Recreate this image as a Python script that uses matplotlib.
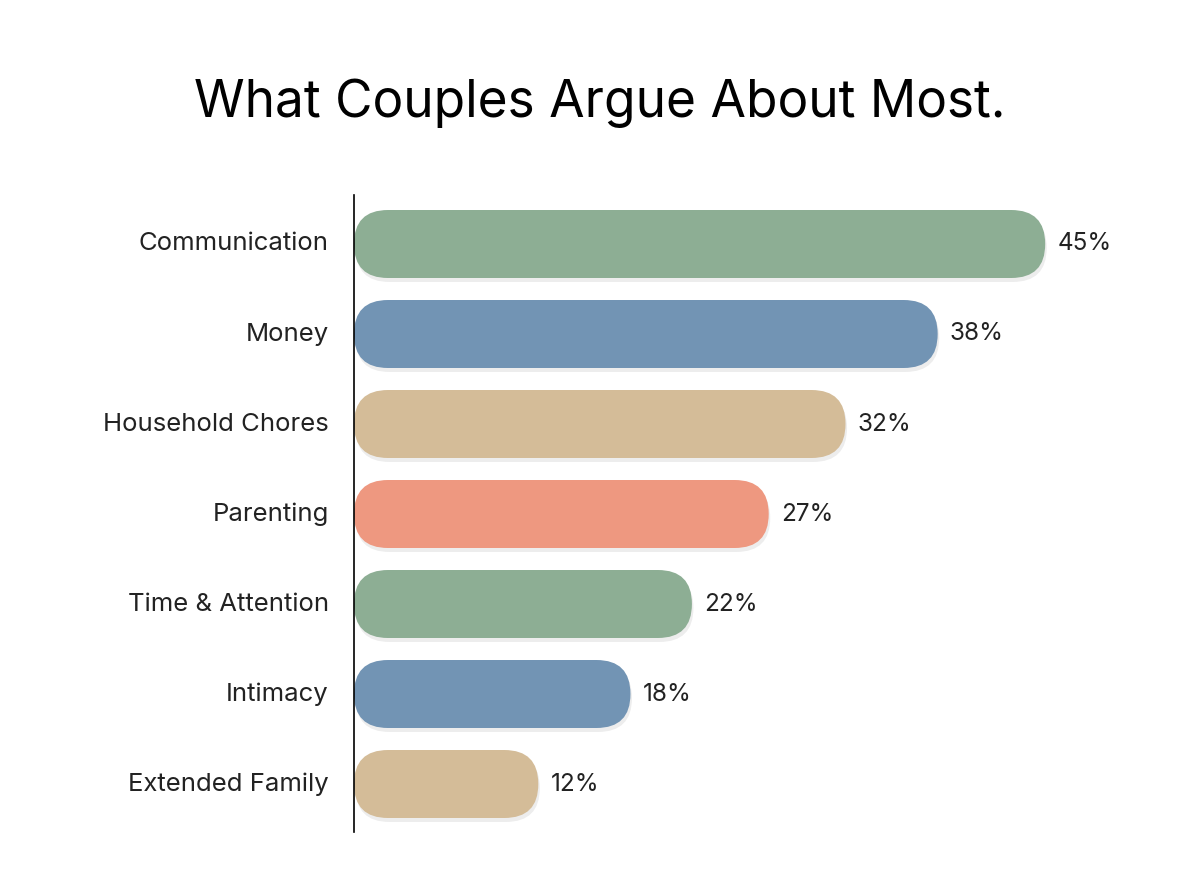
import matplotlib
matplotlib.use("Agg")
import matplotlib.pyplot as plt
from matplotlib.patches import FancyBboxPatch

categories = ["Communication", "Money", "Household Chores", "Parenting",
              "Time & Attention", "Intimacy", "Extended Family"]
values = [45, 38, 32, 27, 22, 18, 12]
colors = ["#8DAE94", "#7294B4", "#D4BC98", "#EE9880", "#8DAE94", "#7294B4", "#D4BC98"]

plt.rcParams['font.family'] = ['Inter', 'DejaVu Sans']
W, H = 1200, 896
fig = plt.figure(figsize=(12, 8.96), dpi=100)
fig.patch.set_facecolor("white")
left, right, top, bottom = 354, 1200, 195, 832
ax = fig.add_axes([left / W, 1 - bottom / H, (right - left) / W, (bottom - top) / H])
pxx = 15.36  # px per unit x
pxy = 90.0   # px per unit y
ax.set_xlim(0, (right - left) / pxx)
ax.set_ylim(6 + 48 / pxy, -49 / pxy)
ax.axis("off")
ax.plot([0, 0], [6 + 48 / pxy, -49 / pxy], color="black", lw=1.2, clip_on=False)

h = 68 / pxy
r = 34 / pxx
asp = pxx / pxy
for i, (c, v, col) in enumerate(zip(categories, values, colors)):
    sh = FancyBboxPatch((0.1, i - h / 2 + 4 / pxy), v, h,
                        boxstyle=f"round,pad=0,rounding_size={r}",
                        mutation_aspect=asp, fc="#000000", ec="none", alpha=0.07)
    ax.add_patch(sh)
    p = FancyBboxPatch((0, i - h / 2), v, h,
                       boxstyle=f"round,pad=0,rounding_size={r}",
                       mutation_aspect=asp, fc=col, ec="none")
    ax.add_patch(p)
    ax.text(v + 12 / pxx, i, f"{v}%", va="center", ha="left", fontsize=17.5, color="#222222")
    ax.text(-25 / pxx, i, c, va="center", ha="right", fontsize=18.5, color="#222222", clip_on=False)

fig.text(600 / W, 1 - 103 / H, "What Couples Argue About Most.", ha="center", va="center",
         fontsize=37, color="black")
fig.savefig("out.png", dpi=100, facecolor="white")
